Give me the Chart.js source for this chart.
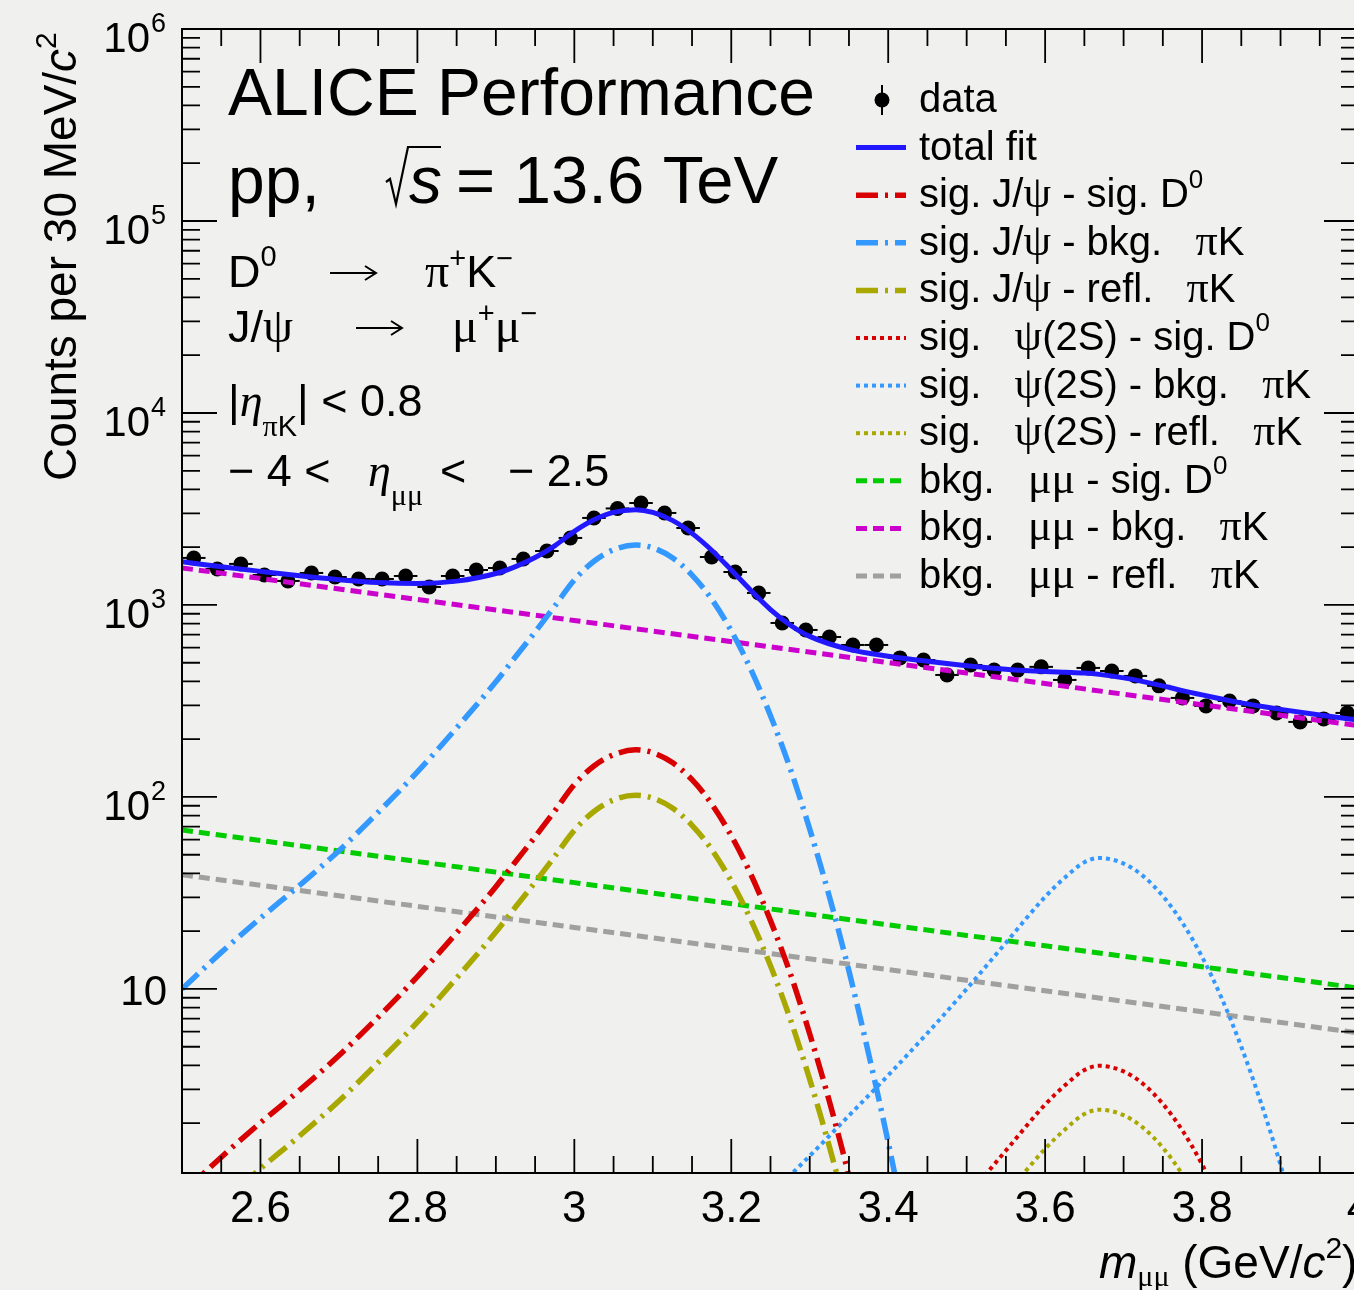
<!DOCTYPE html>
<html><head><meta charset="utf-8">
<script src="https://cdn.jsdelivr.net/npm/chart.js@4.4.1/dist/chart.umd.min.js"></script>
<style>html,body{margin:0;padding:0;overflow:hidden;background:#f0f0ef;} canvas{display:block;}</style>
</head><body>
<canvas id="c" width="1400" height="1290"></canvas>
<script>
// ---------------- data ----------------
const binCenters = [2.515, 2.545, 2.575, 2.605, 2.635, 2.665, 2.695, 2.725, 2.755, 2.785,
  2.815, 2.845, 2.875, 2.905, 2.935, 2.965, 2.995, 3.025, 3.055, 3.085,
  3.115, 3.145, 3.175, 3.205, 3.235, 3.265, 3.295, 3.325, 3.355, 3.385,
  3.415, 3.445, 3.475, 3.505, 3.535, 3.565, 3.595, 3.625, 3.655, 3.685,
  3.715, 3.745, 3.775, 3.805, 3.835, 3.865, 3.895, 3.925, 3.955, 3.985];
const counts = [1758, 1540, 1636, 1433, 1334, 1468, 1399, 1366, 1366, 1416,
  1241, 1416, 1521, 1558, 1737, 1910, 2234, 2840, 3183, 3398,
  3015, 2518, 1778, 1485, 1155, 806, 741, 681, 619, 619,
  530, 517, 432, 487, 458, 458, 476, 407, 470, 453,
  427, 379, 328, 298, 316, 298, 274, 246, 255, 274];
const binHalfWidth = 0.015;

const fitX = [2.5, 2.55, 2.6, 2.65, 2.7, 2.75, 2.8, 2.85, 2.9, 2.925, 2.95, 2.975, 3.0, 3.025, 3.05,
  3.078, 3.1, 3.125, 3.15, 3.175, 3.2, 3.225, 3.25, 3.275, 3.3, 3.35, 3.4, 3.45, 3.5, 3.55,
  3.6, 3.625, 3.65, 3.669, 3.7, 3.725, 3.75, 3.775, 3.8, 3.85, 3.9, 3.95, 4.0];
const totalFit = [1678, 1582, 1496, 1418, 1355, 1310, 1294, 1331, 1458, 1584, 1766, 2033, 2419, 2778, 3036,
  3132, 3034, 2758, 2360, 1928, 1521, 1191, 947, 787, 686, 587, 541, 509, 483, 463,
  450, 446, 442, 435, 417, 399, 379, 358, 340, 309, 286, 267, 251];

const jpsiX = [2.5, 2.55, 2.6, 2.65, 2.7, 2.75, 2.8, 2.85, 2.9, 2.925, 2.95, 2.975, 3.0, 3.025, 3.05,
  3.078, 3.1, 3.125, 3.15, 3.175, 3.2, 3.225, 3.25, 3.275, 3.3, 3.325, 3.35, 3.375, 3.4, 3.425];
const sigJpsiSigD0 = [0.857, 1.33, 2.01, 2.97, 4.5, 7.13, 11.6, 19.6, 34.1, 46.0, 62.0, 84.5, 116, 145, 166,
  176, 170, 151, 123, 91.9, 62.8, 39.5, 22.7, 12.1, 5.83, 2.6, 1.06, 0.39, 0.14, 0.04];
const sigJpsiBkgPiK = [10, 15.5, 23.4, 34.7, 52.5, 83.2, 135, 229, 398, 537, 724, 986, 1349, 1690, 1941,
  2051, 1984, 1762, 1432, 1072, 733, 461, 265, 141, 68, 30.3, 12.4, 4.6, 1.59, 0.5];
const sigJpsiReflPiK = [0.5, 0.77, 1.16, 1.72, 2.61, 4.14, 6.71, 11.4, 19.8, 26.7, 36.0, 49.0, 67.0, 84.0, 96.5,
  102, 98.6, 87.6, 71.2, 53.3, 36.4, 22.9, 13.2, 7.0, 3.38, 1.51, 0.62, 0.23, 0.08, 0.025];

const psiX = [3.25, 3.278, 3.3, 3.35, 3.4, 3.45, 3.5, 3.55, 3.6, 3.625, 3.65, 3.669, 3.7, 3.725,
  3.75, 3.775, 3.8, 3.825, 3.85, 3.875, 3.9, 3.925];
const sigPsi2SSigD0 = [0.07, 0.091, 0.112, 0.181, 0.294, 0.487, 0.827, 1.44, 2.5, 3.14, 3.78, 3.98, 3.72, 3.2,
  2.52, 1.83, 1.22, 0.74, 0.41, 0.21, 0.1, 0.043];
const sigPsi2SBkgPiK = [0.85, 1.1, 1.35, 2.19, 3.55, 5.89, 10, 17.4, 30.2, 38.0, 45.7, 48.1, 45.0, 38.7,
  30.5, 22.1, 14.7, 8.95, 5.0, 2.56, 1.21, 0.52];
const sigPsi2SReflPiK = [0.041, 0.054, 0.066, 0.107, 0.173, 0.287, 0.488, 0.849, 1.47, 1.85, 2.23, 2.35, 2.2, 1.89,
  1.49, 1.08, 0.72, 0.44, 0.24, 0.125, 0.059, 0.025];

const bkgX = [2.5, 2.75, 3.0, 3.25, 3.5, 3.75, 4.0];
const bkgMuMuSigD0 = [67.3, 49.1, 35.8, 26.1, 19.0, 13.9, 10.1];
const bkgMuMuBkgPiK = [1560, 1138, 830, 605, 442, 322, 235];
const bkgMuMuReflPiK = [39.3, 28.7, 20.9, 15.3, 11.1, 8.1, 5.9];

const xTickValues = [2.6, 2.8, 3.0, 3.2, 3.4, 3.6, 3.8, 4.0];
const xTickLabels = ['2.6', '2.8', '3', '3.2', '3.4', '3.6', '3.8', '4'];
const yTickExponents = [1, 2, 3, 4, 5, 6];

// ---------------- styling ----------------
const SANS = '"Liberation Sans", Arial, Helvetica, sans-serif';
const SERIF = '"Liberation Serif", "Times New Roman", serif';
const pts = (xs, ys) => xs.map((x, i) => ({x: x, y: ys[i]}));
const DASHDOT = [22, 7, 3, 7];
const DOT = [4, 4];
const DASH = [11, 6];

function curve(label, xs, ys, color, dash, width, extra) {
  return Object.assign({
    label: label, data: pts(xs, ys), borderColor: color, backgroundColor: color,
    borderDash: dash, borderWidth: width, pointRadius: 0, fill: false,
    cubicInterpolationMode: 'monotone', order: 1
  }, extra || {});
}

const datasets = [
  {label: 'data', data: pts(binCenters, counts), showLine: false, pointRadius: 7.5,
   pointBackgroundColor: '#000', pointBorderColor: '#000', pointBorderWidth: 0, order: 2},
  curve('total fit', fitX, totalFit, '#2218ff', [], 5, {order: 0}),
  curve('sig. J/psi - sig. D0', jpsiX, sigJpsiSigD0, '#d80000', DASHDOT, 5.5),
  curve('sig. J/psi - bkg. piK', jpsiX, sigJpsiBkgPiK, '#3399ff', DASHDOT, 5.5),
  curve('sig. J/psi - refl. piK', jpsiX, sigJpsiReflPiK, '#a8a800', DASHDOT, 5.5),
  curve('sig. psi(2S) - sig. D0', psiX, sigPsi2SSigD0, '#d80000', DOT, 4),
  curve('sig. psi(2S) - bkg. piK', psiX, sigPsi2SBkgPiK, '#3399ff', DOT, 4),
  curve('sig. psi(2S) - refl. piK', psiX, sigPsi2SReflPiK, '#a8a800', DOT, 4),
  curve('bkg. mumu - sig. D0', bkgX, bkgMuMuSigD0, '#00cc00', DASH, 5, {cubicInterpolationMode: 'default', tension: 0}),
  curve('bkg. mumu - bkg. piK', bkgX, bkgMuMuBkgPiK, '#cc00cc', DASH, 5, {cubicInterpolationMode: 'default', tension: 0}),
  curve('bkg. mumu - refl. piK', bkgX, bkgMuMuReflPiK, '#a0a0a0', DASH, 5, {cubicInterpolationMode: 'default', tension: 0})
];

// rich text helper: runs of {t, size, serif, italic, dy, x, arrow}
function drawRuns(ctx, x, y, runs) {
  for (const r of runs) {
    if (r.x !== undefined) x = r.x;
    if (r.arrow) {
      const ay = y - 14;
      ctx.save(); ctx.lineWidth = 2; ctx.setLineDash([]); ctx.strokeStyle = ctx.fillStyle;
      ctx.beginPath(); ctx.moveTo(x, ay); ctx.lineTo(x + r.arrow, ay);
      ctx.moveTo(x + r.arrow - 11, ay - 7); ctx.lineTo(x + r.arrow, ay); ctx.lineTo(x + r.arrow - 11, ay + 7);
      ctx.stroke(); ctx.restore();
      x += r.arrow;
      continue;
    }
    ctx.font = (r.italic ? 'italic ' : '') + (r.size || 40) + 'px ' + (r.serif ? SERIF : SANS);
    ctx.fillText(r.t, x, y + (r.dy || 0));
    x += ctx.measureText(r.t).width;
  }
  return x;
}
const sup0 = {t: '0', size: 26, dy: -19};
const legendRuns = [
  [{t: 'data'}],
  [{t: 'total fit'}],
  [{t: 'sig. J/'}, {t: 'ψ', serif: true, size: 44}, {t: ' - sig. D'}, sup0],
  [{t: 'sig. J/'}, {t: 'ψ', serif: true, size: 44}, {t: ' - bkg.   '}, {t: 'π', serif: true, size: 44}, {t: 'K'}],
  [{t: 'sig. J/'}, {t: 'ψ', serif: true, size: 44}, {t: ' - refl.   '}, {t: 'π', serif: true, size: 44}, {t: 'K'}],
  [{t: 'sig.   '}, {t: 'ψ', serif: true, size: 44}, {t: '(2S) - sig. D'}, sup0],
  [{t: 'sig.   '}, {t: 'ψ', serif: true, size: 44}, {t: '(2S) - bkg.   '}, {t: 'π', serif: true, size: 44}, {t: 'K'}],
  [{t: 'sig.   '}, {t: 'ψ', serif: true, size: 44}, {t: '(2S) - refl.   '}, {t: 'π', serif: true, size: 44}, {t: 'K'}],
  [{t: 'bkg.   '}, {t: 'μμ', serif: true, size: 44}, {t: ' - sig. D'}, sup0],
  [{t: 'bkg.   '}, {t: 'μμ', serif: true, size: 44}, {t: ' - bkg.   '}, {t: 'π', serif: true, size: 44}, {t: 'K'}],
  [{t: 'bkg.   '}, {t: 'μμ', serif: true, size: 44}, {t: ' - refl.   '}, {t: 'π', serif: true, size: 44}, {t: 'K'}]
];
const legendOrder = [0, 1, 2, 3, 4, 5, 6, 7, 8, 9, 10];

const decor = {
  id: 'decor',
  afterDatasetDraw(chart, args) {
    if (args.index !== 0) return;
    const ctx = chart.ctx, xs = chart.scales.x, ys = chart.scales.y, a = chart.chartArea;
    ctx.save();
    ctx.beginPath(); ctx.rect(a.left, a.top, a.right - a.left, a.bottom - a.top); ctx.clip();
    ctx.strokeStyle = '#000'; ctx.lineWidth = 2;
    binCenters.forEach((c, i) => {
      const y = ys.getPixelForValue(counts[i]);
      ctx.beginPath();
      ctx.moveTo(xs.getPixelForValue(c - binHalfWidth), y);
      ctx.lineTo(xs.getPixelForValue(c + binHalfWidth), y);
      ctx.stroke();
    });
    ctx.restore();
  },
  afterDraw(chart) {
    const ctx = chart.ctx, xs = chart.scales.x, ys = chart.scales.y, a = chart.chartArea;
    ctx.save();
    ctx.fillStyle = '#000'; ctx.strokeStyle = '#000';
    // frame
    ctx.lineWidth = 2; ctx.setLineDash([]);
    ctx.strokeRect(a.left, a.top, a.right - a.left, a.bottom - a.top);
    // x ticks
    ctx.lineWidth = 1.8;
    for (let k = 51; k <= 80; k++) {
      const v = k * 0.05, px = xs.getPixelForValue(v);
      const L = (k % 4 === 0) ? 34 : 17;
      ctx.beginPath();
      ctx.moveTo(px, a.bottom); ctx.lineTo(px, a.bottom - L);
      ctx.moveTo(px, a.top); ctx.lineTo(px, a.top + L);
      ctx.stroke();
    }
    // y ticks
    for (let e = 0; e <= 6; e++) {
      for (let m = 1; m <= 9; m++) {
        const v = m * Math.pow(10, e);
        if (v < ys.min || v > ys.max) continue;
        const py = ys.getPixelForValue(v);
        const L = (m === 1) ? 35 : 18;
        ctx.beginPath();
        ctx.moveTo(a.left, py); ctx.lineTo(a.left + L, py);
        ctx.moveTo(a.right, py); ctx.lineTo(a.right - L, py);
        ctx.stroke();
      }
    }
    // x tick labels
    ctx.textAlign = 'center'; ctx.textBaseline = 'alphabetic';
    ctx.font = '44px ' + SANS;
    xTickValues.forEach((v, i) => ctx.fillText(xTickLabels[i], xs.getPixelForValue(v), 1222));
    // y tick labels
    yTickExponents.forEach(e => {
      const py = ys.getPixelForValue(Math.pow(10, e));
      if (e === 1) {
        ctx.textAlign = 'right'; ctx.font = '42px ' + SANS;
        ctx.fillText('10', 167, py + 16);
      } else {
        ctx.textAlign = 'right'; ctx.font = '42px ' + SANS;
        ctx.fillText('10', 150, py + 23);
        ctx.textAlign = 'left'; ctx.font = '27px ' + SANS;
        ctx.fillText(String(e), 151, py + 3);
      }
    });
    ctx.textAlign = 'left';
    // axis titles
    drawRuns(ctx, 1099, 1278, [{t: 'm', size: 46, italic: true}, {t: 'μμ', size: 30, serif: true, dy: 8},
      {t: ' (GeV/', size: 46}, {t: 'c', size: 46, italic: true}, {t: '2', size: 30, dy: -20}, {t: ')', size: 46}]);
    ctx.save();
    ctx.translate(76, 481); ctx.rotate(-Math.PI / 2);
    drawRuns(ctx, 0, 0, [{t: 'Counts per 30 MeV/', size: 46}, {t: 'c', size: 46, italic: true}, {t: '2', size: 30, dy: -20}]);
    ctx.restore();
    // annotation text
    drawRuns(ctx, 228, 115, [{t: 'ALICE Performance', size: 66}]);
    drawRuns(ctx, 228, 203, [{t: 'pp,', size: 66}, {t: 's', size: 66, italic: true, x: 409}, {t: '= 13.6 TeV', size: 67, x: 456}]);
    ctx.lineWidth = 2.2; ctx.beginPath();
    ctx.moveTo(386, 182); ctx.lineTo(390, 179); ctx.lineTo(396, 204); ctx.lineTo(408, 147); ctx.lineTo(441, 147);
    ctx.stroke();
    drawRuns(ctx, 228, 287, [{t: 'D', size: 45}, {t: '0', size: 29, dy: -21}, {arrow: 46, x: 330},
      {t: 'π', size: 48, serif: true, x: 425}, {t: '+', size: 29, dy: -19}, {t: 'K', size: 45}, {t: '−', size: 29, dy: -19}]);
    drawRuns(ctx, 228, 342, [{t: 'J/', size: 45}, {t: 'ψ', size: 48, serif: true}, {arrow: 46, x: 356},
      {t: 'μ', size: 48, serif: true, x: 452}, {t: '+', size: 29, dy: -19}, {t: 'μ', size: 48, serif: true}, {t: '−', size: 29, dy: -19}]);
    drawRuns(ctx, 228, 416, [{t: '|', size: 45}, {t: 'η', size: 46, serif: true, italic: true},
      {t: 'π', size: 30, serif: true, dy: 20}, {t: 'K', size: 29, dy: 20}, {t: '| < 0.8', size: 45}]);
    drawRuns(ctx, 228, 486, [{t: '− 4 <', size: 45}, {t: 'η', size: 46, serif: true, italic: true, x: 368},
      {t: 'μμ', size: 30, serif: true, dy: 19}, {t: '<', size: 45, x: 440}, {t: '− 2.5', size: 45, x: 508}]);
    // legend
    legendOrder.forEach((di, row) => {
      const base = 112 + row * 47.6;
      const ds = chart.data.datasets[di];
      const ly = base - 12;
      if (di === 0) {
        ctx.lineWidth = 2; ctx.setLineDash([]);
        ctx.beginPath(); ctx.moveTo(882, ly - 15); ctx.lineTo(882, ly + 15); ctx.stroke();
        ctx.beginPath(); ctx.arc(882, ly, 7.5, 0, Math.PI * 2); ctx.fill();
      } else {
        ctx.strokeStyle = ds.borderColor; ctx.lineWidth = ds.borderWidth;
        ctx.setLineDash(ds.borderDash || []);
        ctx.beginPath(); ctx.moveTo(856, ly); ctx.lineTo(906, ly); ctx.stroke();
        ctx.setLineDash([]); ctx.strokeStyle = '#000';
      }
      ctx.fillStyle = '#000';
      drawRuns(ctx, 919, base, legendRuns[row]);
    });
    ctx.restore();
  }
};

new Chart(document.getElementById('c'), {
  type: 'line',
  data: {datasets: datasets},
  options: {
    responsive: false, animation: false, devicePixelRatio: 1,
    layout: {padding: {left: 182, top: 29, right: 41, bottom: 117}},
    plugins: {legend: {display: false}, tooltip: {enabled: false}},
    scales: {
      x: {type: 'linear', min: 2.5, max: 4.0, display: false},
      y: {type: 'logarithmic', min: 1.1, max: 1e6, display: false}
    }
  },
  plugins: [decor]
});
</script>
</body></html>
